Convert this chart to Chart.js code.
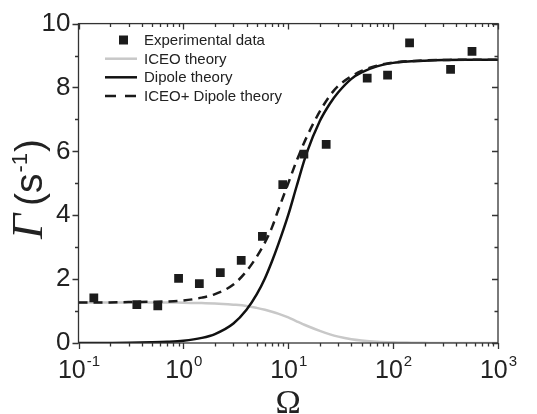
<!DOCTYPE html>
<html><head><meta charset="utf-8">
<script src="https://cdn.jsdelivr.net/npm/chart.js@4.4.1/dist/chart.umd.min.js"></script>
<style>html,body{margin:0;padding:0;background:#fff}#wrap{width:537px;height:414px;position:relative}</style>
</head><body><div id="wrap"><canvas id="c"></canvas></div>
<script>
const expOmega = [0.14, 0.36, 0.57, 0.90, 1.42, 2.25, 3.56, 5.67, 8.87, 14.1, 23.0, 56.6, 88.5, 143.5, 353, 565];
const expGamma = [1.41, 1.20, 1.16, 2.02, 1.86, 2.20, 2.59, 3.34, 4.96, 5.91, 6.22, 8.29, 8.39, 9.40, 8.57, 9.13];
// Theory curves
const curveOmega  = [0.1, 0.15, 0.2, 0.3, 0.5, 0.7, 1, 1.5, 2, 3, 4, 5, 6, 7, 8, 10, 12, 15, 20, 25, 30, 40, 50, 70, 100, 150, 200, 300, 500, 1000];
const iceoGamma   = [1.27, 1.27, 1.27, 1.27, 1.27, 1.27, 1.26, 1.25, 1.24, 1.20, 1.16, 1.10, 1.04, 0.98, 0.92, 0.80, 0.68, 0.54, 0.38, 0.27, 0.20, 0.12, 0.08, 0.04, 0.02, 0.01, 0.005, 0, 0, 0];
const dipoleGamma = [0, 0.002, 0.003, 0.007, 0.02, 0.036, 0.07, 0.16, 0.28, 0.61, 1.04, 1.52, 2.03, 2.56, 3.07, 4.01, 4.90, 5.95, 6.95, 7.50, 7.85, 8.27, 8.47, 8.66, 8.77, 8.82, 8.84, 8.86, 8.87, 8.87];
const sumGamma    = [1.27, 1.27, 1.27, 1.28, 1.29, 1.30, 1.33, 1.42, 1.53, 1.83, 2.25, 2.70, 3.15, 3.62, 4.15, 5.00, 5.70, 6.45, 7.25, 7.75, 8.05, 8.35, 8.52, 8.68, 8.78, 8.83, 8.85, 8.86, 8.87, 8.87];
const seriesNames = ['Experimental data', 'ICEO theory', 'Dipole theory', 'ICEO+ Dipole theory'];
const yTickValues = [0, 2, 4, 6, 8, 10];
const xDecades = [-1, 0, 1, 2, 3];

const pts = (xs, ys) => xs.map((x, i) => ({x: x, y: ys[i]}));
const INK = '#222';
const SANS = "'Liberation Sans', Arial, sans-serif";
const SERIF = "'Liberation Serif', 'Times New Roman', serif";

const decorPlugin = {
  id: 'decor',
  afterDraw(chart) {
    const ctx = chart.ctx, a = chart.chartArea, xs = chart.scales.x, ys = chart.scales.y;
    ctx.save();
    ctx.strokeStyle = '#333'; ctx.lineWidth = 1.3;
    ctx.strokeRect(a.left, a.top, a.right - a.left, a.bottom - a.top);
    ctx.beginPath();
    for (const d of xDecades) {
      for (let m = 1; m <= 9; m++) {
        const v = m * Math.pow(10, d);
        if (v > Math.pow(10, xDecades[xDecades.length - 1]) + 1e-9) break;
        const px = Math.round(xs.getPixelForValue(v)) + 0.5;
        const len = m === 1 ? 6 : 3.5;
        ctx.moveTo(px, a.bottom); ctx.lineTo(px, a.bottom + len);
        ctx.moveTo(px, a.top); ctx.lineTo(px, a.top + len);
      }
    }
    for (let v = 0; v <= 10; v++) {
      const py = Math.round(ys.getPixelForValue(v)) + 0.5;
      const len = v % 2 === 0 ? 6 : 3.5;
      ctx.moveTo(a.left - len, py); ctx.lineTo(a.left, py);
      ctx.moveTo(a.right - len, py); ctx.lineTo(a.right, py);
    }
    ctx.stroke();

    // x tick labels 10^n
    ctx.fillStyle = INK;
    ctx.textBaseline = 'alphabetic';
    for (const d of xDecades) {
      const px = xs.getPixelForValue(Math.pow(10, d));
      ctx.font = '25px ' + SANS;
      const base = '10';
      const bw = ctx.measureText(base).width;
      ctx.font = '15px ' + SANS;
      const ex = String(d);
      const ew = ctx.measureText(ex).width;
      const x0 = px - (bw + ew) / 2;
      ctx.font = '25px ' + SANS;
      ctx.textAlign = 'left';
      ctx.fillText(base, x0, 378);
      ctx.font = '15px ' + SANS;
      ctx.fillText(ex, x0 + bw + 1, 366);
    }

    // x title
    ctx.font = '34px ' + SERIF;
    ctx.textAlign = 'center';
    ctx.fillText('\u03A9', (a.left + a.right) / 2, 413);

    // y title  Γ(s-1)
    ctx.save();
    ctx.translate(42, 239);
    ctx.rotate(-Math.PI / 2);
    ctx.textAlign = 'left';
    let x = 0;
    ctx.font = 'italic 44px ' + SERIF;
    ctx.fillText('\u0393', x, 0); x += ctx.measureText('\u0393').width + 8;
    ctx.font = '39px ' + SANS;
    ctx.fillText('(s', x, 0); x += ctx.measureText('(s').width + 1;
    ctx.font = '22px ' + SANS;
    ctx.fillText('-1', x, -15); x += ctx.measureText('-1').width + 1;
    ctx.font = '39px ' + SANS;
    ctx.fillText(')', x, 0);
    ctx.restore();

    // legend
    const rows = [40, 58.7, 77.3, 96];
    ctx.font = '15px ' + SANS;
    ctx.textAlign = 'left';
    ctx.textBaseline = 'middle';
    chart.data.datasets.forEach((ds, i) => {
      const y = rows[i];
      if (i === 0) {
        ctx.fillStyle = ds.backgroundColor;
        ctx.fillRect(119, y - 4.5, 9, 9);
      } else {
        ctx.save();
        ctx.strokeStyle = ds.borderColor; ctx.lineWidth = ds.borderWidth;
        ctx.setLineDash(i === 3 ? [11, 9] : []);
        ctx.beginPath(); ctx.moveTo(105, y); ctx.lineTo(137, y); ctx.stroke();
        ctx.restore();
      }
      ctx.fillStyle = INK;
      ctx.fillText(ds.label, 144, y + 1);
    });
    ctx.restore();
  }
};

new Chart(document.getElementById('c'), {
  type: 'scatter',
  data: {
    datasets: [
      { label: seriesNames[0], data: pts(expOmega, expGamma), pointStyle: 'rect', pointRadius: 6.2,
        backgroundColor: '#1c1c1c', borderColor: '#1c1c1c', borderWidth: 0, showLine: false, order: 0 },
      { label: seriesNames[1], data: pts(curveOmega, iceoGamma), showLine: true, pointRadius: 0,
        borderColor: '#c8c8c8', borderWidth: 2.5, cubicInterpolationMode: 'monotone', order: 3 },
      { label: seriesNames[2], data: pts(curveOmega, dipoleGamma), showLine: true, pointRadius: 0,
        borderColor: '#111', borderWidth: 2.5, cubicInterpolationMode: 'monotone', order: 2 },
      { label: seriesNames[3], data: pts(curveOmega, sumGamma), showLine: true, pointRadius: 0,
        borderColor: '#1a1a1a', borderWidth: 2.5, borderDash: [9, 6], cubicInterpolationMode: 'monotone', order: 1 }
    ]
  },
  options: {
    responsive: true, maintainAspectRatio: false, animation: false,
    layout: { padding: { top: 23, right: 39, left: 0, bottom: 0 } },
    plugins: { legend: { display: false }, tooltip: { enabled: false } },
    scales: {
      x: { type: 'logarithmic', min: 0.1, max: 1000,
        grid: { display: false, drawTicks: false }, border: { display: false },
        ticks: { display: false },
        afterFit(s) { s.height = 71; } },
      y: { type: 'linear', min: 0, max: 10,
        grid: { display: false, drawTicks: false }, border: { display: false },
        afterBuildTicks(s) { s.ticks = yTickValues.map(v => ({value: v})); },
        ticks: { color: INK, padding: 8, font: { family: SANS, size: 26 } },
        afterFit(s) { s.width = 78.5; } }
    }
  },
  plugins: [decorPlugin]
});
</script>
</body></html>
